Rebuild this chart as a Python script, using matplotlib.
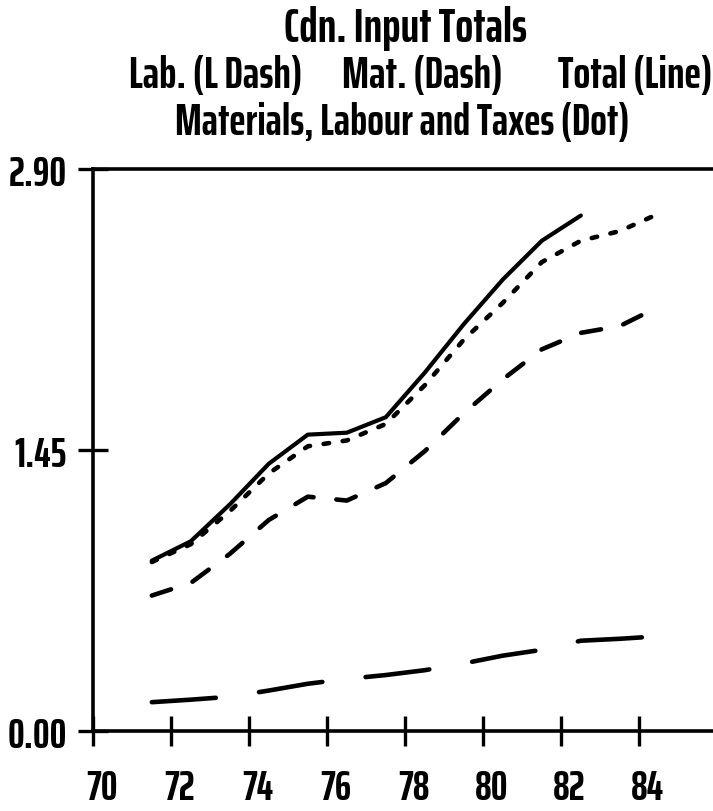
import matplotlib
matplotlib.use("Agg")
import matplotlib.pyplot as plt
import matplotlib.transforms as mtransforms
from matplotlib import font_manager as fm

# plotted at mid-year
yrs = [71.5, 72.5, 73.5, 74.5, 75.5, 76.5, 77.5, 78.5, 79.5, 80.5, 81.5, 82.5, 83.5, 84.5]
lab = [0.15, 0.163, 0.178, 0.21, 0.245, 0.27, 0.29, 0.315, 0.35, 0.39, 0.42, 0.467, 0.477, 0.49]
mat = [0.70, 0.765, 0.915, 1.09, 1.21, 1.19, 1.28, 1.445, 1.64, 1.815, 1.97, 2.055, 2.09, 2.19]
mlt = [0.873, 0.965, 1.135, 1.33, 1.47, 1.50, 1.585, 1.785, 2.02, 2.21, 2.42, 2.53, 2.58, 2.67]
total_yrs = yrs[:12]
total = [0.88, 0.98, 1.17, 1.38, 1.53, 1.54, 1.62, 1.85, 2.10, 2.33, 2.53, 2.66]

xticks = [70, 72, 74, 76, 78, 80, 82, 84]
yticks = [0.0, 1.45, 2.90]
ylabels = ["0.00", "1.45", "2.90"]
keys = ["Lab. (L Dash)", "Mat. (Dash)", "Total (Line)"]

# narrow plotter-like lettering if we have it
try:
    fm.findfont("Saira ExtraCondensed", fallback_to_default=False)
    fam, k = ["Saira ExtraCondensed", "DejaVu Sans"], 1.0
except ValueError:
    fam, k = ["Liberation Sans", "DejaVu Sans"], 0.62
plt.rcParams['font.family'] = fam
plt.rcParams['font.weight'] = 'bold'

fig = plt.figure(figsize=(7.13, 8.12), dpi=100)
ax = fig.add_axes([0.1309, 0.0982, 0.8691, 0.6924])

lw = 3.3
ax.plot(yrs, lab, color='black', lw=lw, dashes=(14, 9.5), dash_capstyle='round')
ax.plot(yrs, mat, color='black', lw=lw, dashes=(4.4, 5.0), dash_capstyle='round')
ax.plot(yrs, mlt, color='black', lw=lw, dashes=(1.2, 3.0), dash_capstyle='round')
ax.plot(total_yrs, total, color='black', lw=3.0, solid_capstyle='round')

ax.set_xlim(70, 85.89)
ax.set_ylim(0, 2.90)
ax.set_xticks(xticks)
ax.set_xticklabels([str(t) for t in xticks], fontsize=30 * k)
ax.set_yticks(yticks)
ax.set_yticklabels(ylabels, fontsize=30 * k)
ax.tick_params(direction='inout', length=22, width=2.4)
ax.tick_params(axis='x', pad=15)
ax.tick_params(axis='y', pad=8)
shift = mtransforms.ScaledTranslation(6 / 72, 0, fig.dpi_scale_trans)
for lbl in ax.get_xticklabels():
    lbl.set_transform(lbl.get_transform() + shift)

for s in ['left', 'bottom', 'top']:
    ax.spines[s].set_linewidth(2.6)
ax.spines['right'].set_visible(False)

fig.text(0.569, 0.965, "Cdn. Input Totals", ha='center', va='center', fontsize=34 * k)
for xc, t in zip([0.302, 0.592, 0.891], keys):
    fig.text(xc, 0.907, t, ha='center', va='center', fontsize=32 * k)
fig.text(0.564, 0.849, "Materials, Labour and Taxes (Dot)", ha='center', va='center', fontsize=31.5 * k)

fig.savefig("out.png", dpi=100)
